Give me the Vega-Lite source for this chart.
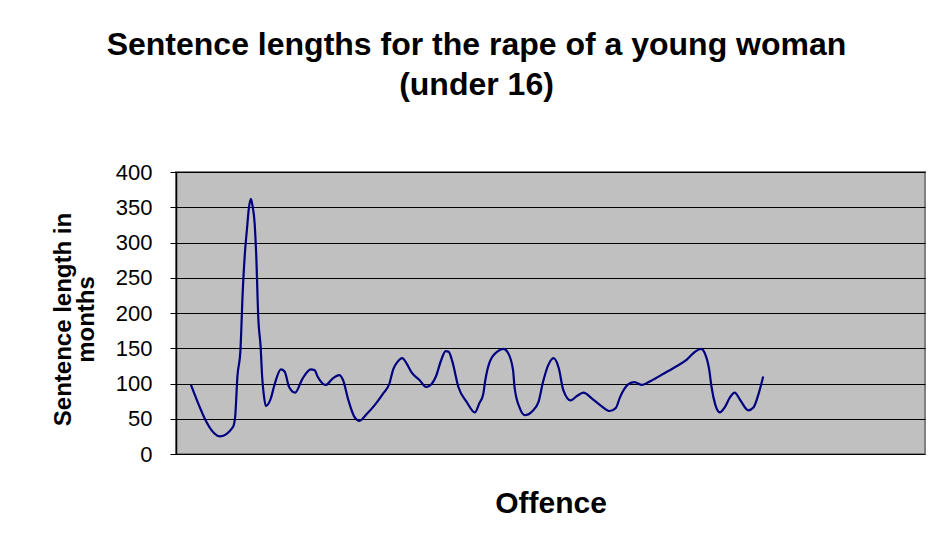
{
  "$schema": "https://vega.github.io/schema/vega-lite/v6.json",
  "width": 749,
  "height": 282,
  "autosize": "none",
  "padding": {"left": 176, "top": 172, "right": 11, "bottom": 93},
  "background": "white",
  "title": {
    "text": ["Sentence lengths for the rape of a young woman", "(under 16)"],
    "font": "Liberation Sans",
    "fontSize": 32,
    "fontWeight": "bold",
    "lineHeight": 40,
    "color": "black",
    "anchor": "middle",
    "dx": -74,
    "offset": 59
  },
  "config": {
    "view": {"fill": "#C0C0C0", "stroke": "#808080", "strokeWidth": 2},
    "font": "Liberation Sans"
  },
  "data": {
    "values": [
      {"offence": 2.0, "months": 98},
      {"offence": 5.9, "months": 25},
      {"offence": 7.6, "months": 38},
      {"offence": 7.9, "months": 53},
      {"offence": 8.2, "months": 110},
      {"offence": 8.6, "months": 147},
      {"offence": 8.9, "months": 228},
      {"offence": 9.2, "months": 285},
      {"offence": 9.5, "months": 322},
      {"offence": 9.7, "months": 346},
      {"offence": 10.0, "months": 362},
      {"offence": 10.2, "months": 353},
      {"offence": 10.5, "months": 327},
      {"offence": 10.7, "months": 285},
      {"offence": 11.0, "months": 190},
      {"offence": 11.3, "months": 152},
      {"offence": 11.5, "months": 110},
      {"offence": 11.7, "months": 86},
      {"offence": 12.0, "months": 68},
      {"offence": 12.6, "months": 77},
      {"offence": 13.2, "months": 100},
      {"offence": 14.0, "months": 120},
      {"offence": 14.5, "months": 117},
      {"offence": 15.1, "months": 95},
      {"offence": 15.9, "months": 87},
      {"offence": 16.9, "months": 107},
      {"offence": 18.0, "months": 120},
      {"offence": 18.5, "months": 119},
      {"offence": 18.9, "months": 110},
      {"offence": 20.0, "months": 98},
      {"offence": 20.9, "months": 107},
      {"offence": 21.8, "months": 112},
      {"offence": 22.3, "months": 105},
      {"offence": 23.0, "months": 77},
      {"offence": 23.8, "months": 53},
      {"offence": 24.5, "months": 47},
      {"offence": 25.4, "months": 56},
      {"offence": 26.5, "months": 69},
      {"offence": 27.6, "months": 85},
      {"offence": 28.5, "months": 100},
      {"offence": 29.0, "months": 120},
      {"offence": 29.6, "months": 131},
      {"offence": 30.2, "months": 136},
      {"offence": 30.7, "months": 130},
      {"offence": 31.5, "months": 115},
      {"offence": 32.5, "months": 105},
      {"offence": 33.4, "months": 95},
      {"offence": 34.1, "months": 99},
      {"offence": 34.7, "months": 110},
      {"offence": 35.4, "months": 133},
      {"offence": 36.0, "months": 146},
      {"offence": 36.4, "months": 145},
      {"offence": 36.9, "months": 131},
      {"offence": 37.7, "months": 95},
      {"offence": 38.8, "months": 74},
      {"offence": 39.9, "months": 59},
      {"offence": 40.5, "months": 72},
      {"offence": 41.0, "months": 84},
      {"offence": 41.3, "months": 105},
      {"offence": 41.9, "months": 131},
      {"offence": 43.0, "months": 146},
      {"offence": 43.7, "months": 149},
      {"offence": 44.3, "months": 144},
      {"offence": 45.0, "months": 119},
      {"offence": 45.2, "months": 95},
      {"offence": 45.9, "months": 65},
      {"offence": 46.6, "months": 55},
      {"offence": 47.5, "months": 60},
      {"offence": 48.4, "months": 74},
      {"offence": 49.0, "months": 102},
      {"offence": 49.7, "months": 126},
      {"offence": 50.4, "months": 136},
      {"offence": 51.1, "months": 122},
      {"offence": 51.7, "months": 91},
      {"offence": 52.7, "months": 76},
      {"offence": 53.5, "months": 82},
      {"offence": 54.4, "months": 87},
      {"offence": 55.5, "months": 79},
      {"offence": 56.8, "months": 68},
      {"offence": 57.9, "months": 61},
      {"offence": 58.7, "months": 65},
      {"offence": 59.3, "months": 81},
      {"offence": 60.4, "months": 99},
      {"offence": 61.2, "months": 102},
      {"offence": 62.2, "months": 98},
      {"offence": 63.1, "months": 102},
      {"offence": 64.8, "months": 112},
      {"offence": 66.6, "months": 123},
      {"offence": 68.2, "months": 134},
      {"offence": 69.3, "months": 145},
      {"offence": 70.1, "months": 149},
      {"offence": 70.6, "months": 143},
      {"offence": 71.2, "months": 119},
      {"offence": 71.5, "months": 95},
      {"offence": 72.0, "months": 70},
      {"offence": 72.6, "months": 59},
      {"offence": 73.3, "months": 67},
      {"offence": 74.0, "months": 81},
      {"offence": 74.6, "months": 87},
      {"offence": 75.3, "months": 77},
      {"offence": 76.4, "months": 62},
      {"offence": 77.1, "months": 66},
      {"offence": 77.8, "months": 86},
      {"offence": 78.4, "months": 110}
    ]
  },
  "mark": {"type": "line", "color": "#000080", "strokeWidth": 2.2, "interpolate": "monotone"},
  "encoding": {
    "x": {
      "field": "offence",
      "type": "quantitative",
      "scale": {"domain": [0, 100], "nice": false, "zero": false},
      "axis": {
        "title": "Offence",
        "titleFont": "Liberation Sans",
        "titleFontSize": 30,
        "titleFontWeight": "bold",
        "titleColor": "black",
        "titlePadding": 34,
        "labels": false,
        "ticks": false,
        "grid": false,
        "domain": false
      }
    },
    "y": {
      "field": "months",
      "type": "quantitative",
      "scale": {"domain": [0, 400], "nice": false},
      "axis": {
        "title": ["Sentence length in", "months"],
        "titleFont": "Liberation Sans",
        "titleFontSize": 24,
        "titleFontWeight": "bold",
        "titleColor": "black",
        "titleLineHeight": 23,
        "titleX": -113,
        "titleY": 147,
        "titleAngle": -90,
        "titleAlign": "center",
        "titleBaseline": "middle",
        "values": [0, 50, 100, 150, 200, 250, 300, 350, 400],
        "labelFont": "Liberation Sans",
        "labelFontSize": 22,
        "labelColor": "black",
        "labelPadding": 18,
        "tickSize": 6,
        "tickColor": "black",
        "domainColor": "black",
        "domainWidth": 1.5,
        "grid": true,
        "gridColor": "black",
        "gridWidth": 1,
        "gridOpacity": 1
      }
    }
  }
}
